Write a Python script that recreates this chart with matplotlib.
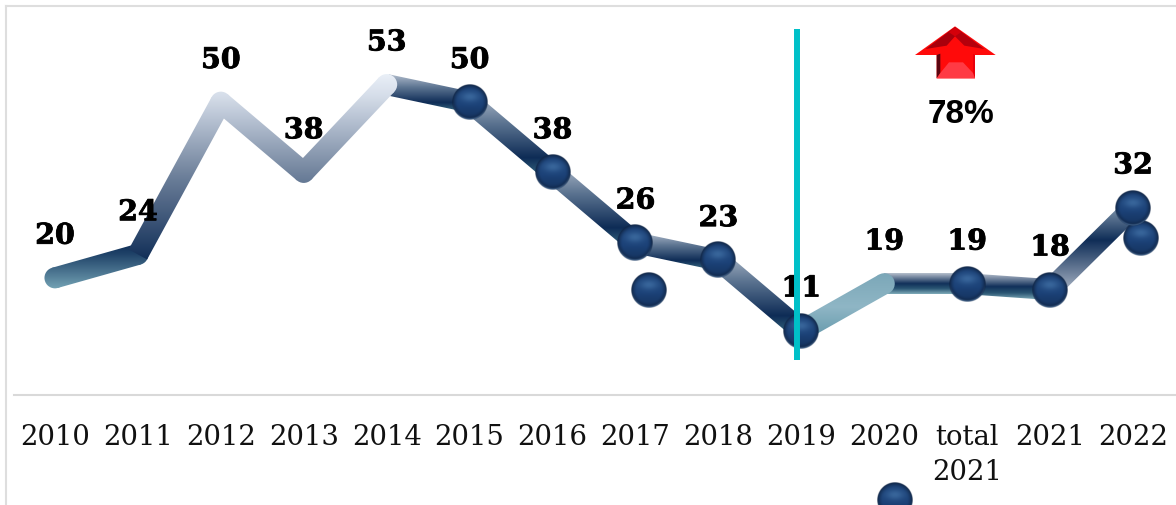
import numpy as np
import matplotlib
matplotlib.use("Agg")
import matplotlib.pyplot as plt
import matplotlib.patheffects as pe
from matplotlib.colors import LinearSegmentedColormap, to_rgb
from matplotlib.path import Path
from matplotlib.patches import Polygon
from matplotlib.transforms import IdentityTransform

# ---- data ----
categories = ["2010", "2011", "2012", "2013", "2014", "2015", "2016", "2017",
              "2018", "2019", "2020", "total\n2021", "2021", "2022"]
values = [20, 24, 50, 38, 53, 50, 38, 26, 23, 11, 19, 19, 18, 32]
marked = [False, False, False, False, False, True, True, True, True, True,
          False, True, True, True]
extra_x = [7.16, 13.1]
extra_y = [18.0, 26.8]
change_label = "78%"
divider_x = 8.95
divider_range = (6.0, 62.5)

W, H = 1176, 506
DPI = 100
fig = plt.figure(figsize=(W / DPI, H / DPI), dpi=DPI, facecolor="white")
AX_L, AX_R, AX_T, AX_B = 13.5, 1174.5, 8, 396
ax = fig.add_axes([AX_L / W, 1 - AX_B / H, (AX_R - AX_L) / W, (AX_B - AX_T) / H])
ax.set_facecolor("none")
ax.set_xlim(-0.5, 13.5)
ax.set_ylim(0, (AX_B - AX_T) / 5.857)
ax.set_autoscale_on(False)
for s in ("top", "left", "right"):
    ax.spines[s].set_visible(False)
ax.spines["bottom"].set_color("#d9d9d9")
ax.spines["bottom"].set_linewidth(1.5)
ax.set_yticks([])
ax.set_xticks(range(len(categories)))
ax.set_xticklabels(categories, family="DejaVu Serif", fontsize=19.8, linespacing=1.4,
                   color="#111111", va="top")
ax.tick_params(axis="x", length=0, pad=20)

# outer frame of the chart (cut by the picture's edges)
fig.add_artist(plt.Line2D([6 / W, 6 / W], [0, 1 - 7 / H], color="#dedede", lw=1.5))
fig.add_artist(plt.Line2D([6 / W, 1], [1 - 7 / H, 1 - 7 / H], color="#dedede", lw=1.5))


def to_data(px, py):
    """Figure pixel (y downward) -> data coordinates, for decorations."""
    return ax.transData.inverted().transform((px, H - py))


LW = 21.0  # line width, pixels
T = to_rgb
DARK = "#0c2a54"
STOP_FIRST = [(0, DARK), (0.25, "#1f4268"), (1, "#74a3b5")]
STOP_BAND = [(0, "#b9c3d2"), (0.35, "#5c7491"), (0.72, "#0e2c56"), (0.88, "#2f5c78"), (1, "#9ccad0")]
STOP_FLAT = [(0, "#c6cdd8"), (0.5, "#11305a"), (0.72, "#2a5573"), (1, "#8fbcc6")]
STOP_TEAL = [(0, "#7ba7b8"), (0.5, "#8fb6c5"), (1, "#5f95a8")]
STOP_LAST = [(0, "#9fb3c4"), (0.42, "#0f2d57"), (1, "#c4ccd8")]
STOP_RISE = [(0, "#eaf0f8"), (0.12, "#d5dde9"), (0.55, "#6a7d98"), (1, DARK)]


def stroke_paths(p0, p1, width, cap0, cap1):
    p0, p1 = np.array(p0, float), np.array(p1, float)
    d = (p1 - p0) / np.hypot(*(p1 - p0))
    n = np.array([-d[1], d[0]]) * width / 2
    poly = np.array([p0 + n, p1 + n, p1 - n, p0 - n, p0 + n])
    paths = [Path(poly, closed=True)]
    for on, c in ((cap0, p0), (cap1, p1)):
        if on:
            paths.append(Path(Path.unit_circle().vertices * width / 2 + c,
                              Path.unit_circle().codes))
    return paths


def gradient_segment(i, stops, cap0=False, cap1=False, span=None, z=2.0):
    """Draw the thick segment i -> i+1 with a vertical colour gradient."""
    p0 = ax.transData.transform((i, values[i]))
    p1 = ax.transData.transform((i + 1, values[i + 1]))
    if span is None:
        lo = min(p0[1], p1[1]) - LW / 2 - 1
        hi = max(p0[1], p1[1]) + LW / 2 + 1
    else:
        lo, hi = H - span[1], H - span[0]
    cmap = LinearSegmentedColormap.from_list("g", stops)
    grad = np.linspace(0, 1, 256)[:, None]  # row 0 = top
    xl = min(p0[0], p1[0]) - LW
    xr = max(p0[0], p1[0]) + LW
    (x0, y0), (x1, y1) = ax.transData.inverted().transform([(xl, lo), (xr, hi)])
    for path in stroke_paths(p0, p1, LW, cap0, cap1):
        im = ax.imshow(grad, cmap=cmap, vmin=0, vmax=1, extent=(x0, x1, y0, y1),
                       origin="upper", aspect="auto", zorder=z, clip_on=True,
                       interpolation="bilinear")
        im.set_clip_path(path, IdentityTransform())


# draw order: band segments below, rising part on top
gradient_segment(0, STOP_FIRST, cap0=True, cap1=True, z=2.0)
for j in range(4, 9):
    gradient_segment(j, STOP_BAND, z=2.0)
gradient_segment(10, STOP_FLAT, z=2.0)
gradient_segment(11, STOP_FLAT, z=2.0)
gradient_segment(12, STOP_LAST, z=2.0)
gradient_segment(9, STOP_TEAL, cap1=True, z=2.2)
span = (75, 266)
gradient_segment(1, STOP_RISE, span=span, z=2.3, cap0=False, cap1=True)
gradient_segment(2, STOP_RISE, span=span, z=2.3, cap1=True)
gradient_segment(3, STOP_RISE, span=span, z=2.3, cap1=True)


def sphere_image(n=96):
    yy, xx = np.mgrid[-1:1:n * 1j, -1:1:n * 1j]
    r = np.hypot(xx, yy)
    base = np.array(T("#1b4177"))
    edge = np.array(T("#0e2240"))
    hi = np.array(T("#3f6ea3"))
    rim = np.array(T("#43648c"))
    t = np.clip((r - 0.68) / 0.32, 0, 1)[..., None] ** 1.5
    img = base * (1 - t) + edge * t
    low = np.clip((yy - 0.15) / 0.8, 0, 1)[..., None]
    img = img * (1 - 0.45 * low) + edge * 0.45 * low
    h = np.exp(-((xx / 0.55) ** 2 + ((yy + 0.3) / 0.3) ** 2))[..., None]
    img = img * (1 - 0.8 * h) + hi * 0.8 * h
    b = np.exp(-(((r - 0.96) / 0.05) ** 2))[..., None] * np.clip(yy, 0, 1)[..., None]
    img = img * (1 - b) + rim * b
    alpha = np.clip((1 - r) * n / 2, 0, 1)[..., None]
    return np.dstack([img, alpha])


SPHERE = sphere_image()
RAD = 18.0


def sphere(x, y, z=4):
    cx, cy = ax.transData.transform((x, y))
    (x0, y0), (x1, y1) = ax.transData.inverted().transform(
        [(cx - RAD, cy - RAD), (cx + RAD, cy + RAD)])
    ax.imshow(SPHERE, extent=(x0, x1, y0, y1), origin="upper", aspect="auto",
              zorder=z, clip_on=False, interpolation="bilinear")


for x, y in zip(extra_x, extra_y):
    sphere(x, y, z=3.5)
for i, (v, m) in enumerate(zip(values, marked)):
    if m:
        sphere(i, v, z=4)

# lone legend marker, below the axis
lx, ly = to_data(895, 501)
sphere(lx, ly, z=4)

# divider
ax.plot([divider_x, divider_x], divider_range, color="#00c0c8", lw=4.3,
        solid_capstyle="butt", zorder=6, clip_on=False)

# value labels
for i, v in enumerate(values):
    ax.annotate(str(v), (i, v), xytext=(0, 30), textcoords="offset points",
                ha="center", va="center", family="DejaVu Serif", weight="bold",
                fontsize=20.5, color="black", zorder=5.5,
                path_effects=[pe.withStroke(linewidth=0.6, foreground="black")])


# red arrow: outlines taken in a 3x crop frame around the arrow
def P(pts):
    return [tuple(to_data(905 + x / 3, 20 + y / 3)) for x, y in pts]


def poly(pts, color, z=7.0):
    ax.add_patch(Polygon(P(pts), closed=True, facecolor=color, edgecolor="none",
                         zorder=z, clip_on=False))


poly([(150, 22), (272, 108), (210, 108), (210, 178), (95, 178), (95, 108), (30, 108)], "#ff0a0a")
poly([(150, 24), (62, 90), (125, 80), (150, 52)], "#a8000c", z=7.1)
poly([(150, 24), (238, 90), (178, 80), (150, 52)], "#b4000c", z=7.1)
poly([(150, 24), (132, 40), (150, 52)], "#d4000a", z=7.2)
poly([(150, 24), (168, 40), (150, 52)], "#d4000a", z=7.2)
poly([(95, 108), (106, 104), (106, 162), (95, 178)], "#5a0510", z=7.1)
poly([(210, 108), (204, 104), (204, 162), (210, 178)], "#e8000c", z=7.1)
poly([(106, 162), (132, 130), (174, 130), (204, 162), (210, 178), (95, 178)], "#ff3a44", z=7.2)

tx, ty = to_data(961, 115)
ax.text(tx, ty, change_label, ha="center", va="center",
        family=["Liberation Sans Narrow", "Liberation Sans"], weight="bold",
        fontsize=24, color="black", zorder=7)

fig.savefig("out.png", dpi=DPI, facecolor="white")
